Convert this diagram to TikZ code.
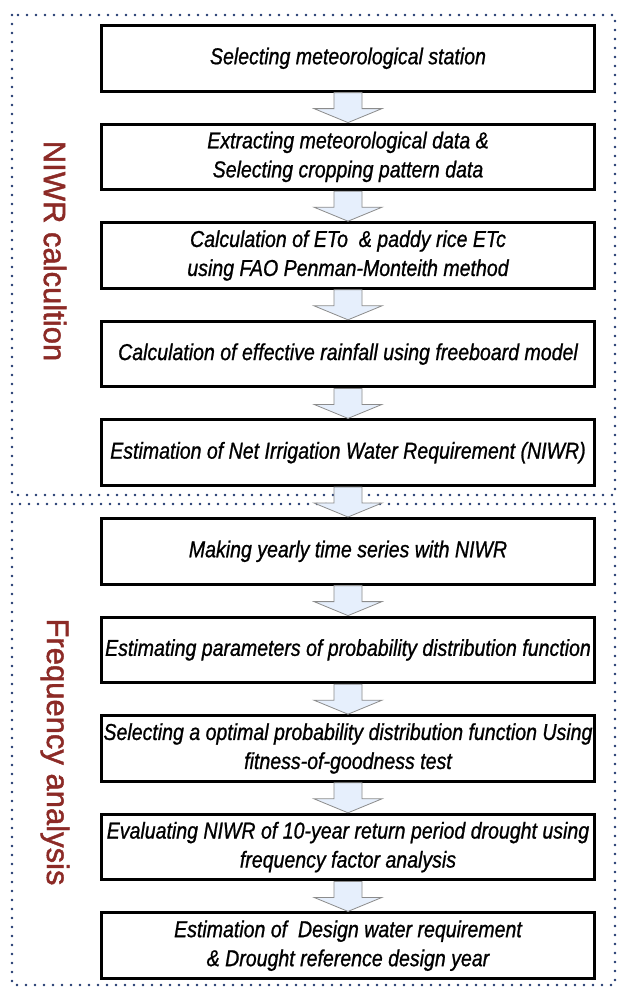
\documentclass[tikz,border=0pt]{standalone}
\usepackage{fontspec}
\setmainfont{Liberation Sans}
\newfontfamily\stepfont[FakeStretch=0.85,FakeBold=0.9]{Liberation Sans}
\newfontfamily\labelfont[FakeBold=1.4]{Liberation Sans}
\usetikzlibrary{positioning,calc}
\definecolor{framedot}{RGB}{31,56,110}
\definecolor{labelred}{RGB}{140,42,38}
\definecolor{arrowfill}{RGB}{230,239,252}
\newcommand\flowarrow[2]{%
  \draw[flowarrow] let \p1=(#1.south), \p2=(#2.north) in
    (\x1-14pt,\y1) -- (\x1+14pt,\y1) -- (\x1+14pt,\y2+14pt) -- (\x1+34pt,\y2+14pt)
    -- (\x1,\y2) -- (\x1-34pt,\y2+14pt) -- (\x1-14pt,\y2+14pt) -- cycle;}

\begin{document}
\begin{tikzpicture}[x=1pt, y=-1pt, node distance=30pt,
  stepbox/.style = {draw, line width=3pt, minimum width=493pt,
    minimum height=65.6pt, inner xsep=2pt, align=center,
    font=\stepfont\itshape\fontsize{23}{29}\selectfont},
  sidelabel/.style = {rotate=-90, text=labelred,
    font=\labelfont\fontsize{31}{31}\selectfont},
  dotframe/.style = {framedot, line width=2.6pt, line cap=round,
    dash pattern=on 0pt off 9pt},
  flowarrow/.style = {draw=black!45, fill=arrowfill, line width=0.8pt}]
  \useasboundingbox[fill=white] (0,0) rectangle (617,996);
  \draw[dotframe] (12,15) rectangle (615,495);
  \draw[dotframe] (12,504) rectangle (615,985);
  \node[sidelabel] (niwr) at (55,251) {NIWR calcultion};
  \node[sidelabel] (freq) at (55,752) {Frequency analysis};

  \node[stepbox] (b1) at (348,58.3) {Selecting meteorological station};
  \node[stepbox, below=of b1] (b2) {Extracting meteorological data \&\\
    Selecting cropping pattern data};
  \node[stepbox, below=of b2] (b3) {Calculation of ETo~ \& paddy rice ETc\\
    using FAO Penman-Monteith method};
  \node[stepbox, below=of b3] (b4) {Calculation of effective rainfall using freeboard model};
  \node[stepbox, below=of b4] (b5) {Estimation of Net Irrigation Water Requirement (NIWR)};
  \node[stepbox, below=of b5] (b6) {Making yearly time series with NIWR};
  \node[stepbox, below=of b6] (b7) {Estimating parameters of probability distribution function};
  \node[stepbox, below=of b7] (b8) {Selecting a optimal probability distribution function Using\\
    fitness-of-goodness test};
  \node[stepbox, below=of b8] (b9) {Evaluating NIWR of 10-year return period drought using\\
    frequency factor analysis};
  \node[stepbox, below=of b9] (b10) {Estimation of~ Design water requirement\\
    \& Drought reference design year};

  \foreach \a/\b in {b1/b2, b2/b3, b3/b4, b4/b5, b5/b6, b6/b7, b7/b8, b8/b9, b9/b10}
    \flowarrow{\a}{\b};
\end{tikzpicture}
\end{document}
